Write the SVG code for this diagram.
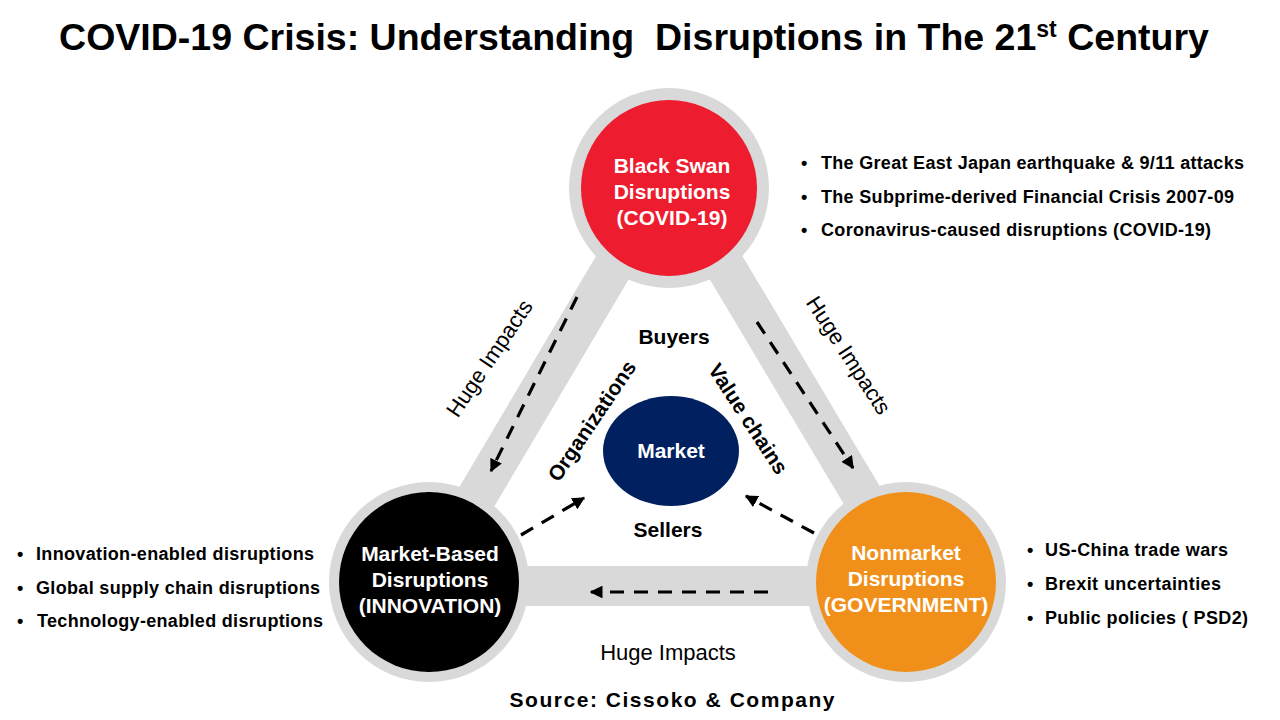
<svg xmlns="http://www.w3.org/2000/svg" width="1280" height="720" viewBox="0 0 1280 720">
<defs>
<style>
.t{font-family:"Liberation Sans",Arial,sans-serif;}
.b{font-weight:bold;}
.ct{font-family:"Liberation Sans",Arial,sans-serif;font-weight:bold;font-size:21px;fill:#fff;text-anchor:middle;}
.lbl{font-family:"Liberation Sans",Arial,sans-serif;font-weight:bold;font-size:21px;fill:#000;text-anchor:middle;}
.hi{font-family:"Liberation Sans",Arial,sans-serif;font-size:22px;fill:#000;text-anchor:middle;}
.bul{font-family:"Liberation Sans",Arial,sans-serif;font-weight:bold;font-size:18px;fill:#000;}
.ring{fill:#d9d9d9;}
.dash{stroke:#000;stroke-width:3.2;stroke-dasharray:14 10;fill:none;marker-end:url(#ah);}
</style>
<marker id="ah" viewBox="0 0 10 10" refX="9" refY="5" markerWidth="4" markerHeight="4" orient="auto" markerUnits="strokeWidth">
<path d="M0,0 L10,5 L0,10 z" fill="#000"/>
</marker>
</defs>
<rect width="1280" height="720" fill="#fff"/>

<g id="title">
<text class="t b" x="634" y="50" text-anchor="middle" font-size="37.5" style="white-space:pre">COVID-19 Crisis: Understanding  Disruptions in The 21<tspan font-size="23" dy="-13">st</tspan><tspan dy="13"> Century</tspan></text>
</g>

<g id="bars">
<polygon points="669,172 424,586 916,586" fill="none" stroke="#d9d9d9" stroke-width="40" stroke-linejoin="miter"/>
</g>

<g id="node-blackswan">
<circle class="ring" cx="669" cy="188" r="100"/>
<circle cx="669" cy="188" r="88" fill="#ed1c2e"/>
<text class="ct" x="672" y="173">Black Swan</text>
<text class="ct" x="672" y="199">Disruptions</text>
<text class="ct" x="672" y="225">(COVID-19)</text>
</g>

<g id="node-marketbased">
<circle class="ring" cx="429" cy="582" r="100"/>
<circle cx="429" cy="582" r="90" fill="#000"/>
<text class="ct" x="430" y="561">Market-Based</text>
<text class="ct" x="430" y="587">Disruptions</text>
<text class="ct" x="430" y="613">(INNOVATION)</text>
</g>

<g id="node-nonmarket">
<circle class="ring" cx="906" cy="582" r="100"/>
<circle cx="906" cy="582" r="90" fill="#f0901a"/>
<text class="ct" x="906" y="560">Nonmarket</text>
<text class="ct" x="906" y="586">Disruptions</text>
<text class="ct" x="906" y="612">(GOVERNMENT)</text>
</g>

<g id="node-market">
<ellipse cx="671" cy="451" rx="68" ry="55" fill="#002060"/>
<text class="ct" x="671" y="458" font-size="21.5">Market</text>
</g>

<g id="connectors">
<line class="dash" x1="577" y1="297" x2="491" y2="471"/>
<line class="dash" x1="757" y1="322" x2="853" y2="468"/>
<line class="dash" x1="768" y1="592" x2="591" y2="592"/>
<line class="dash" x1="521" y1="535" x2="584" y2="498"/>
<line class="dash" x1="814" y1="533" x2="746" y2="496"/>
</g>

<g id="labels">
<text class="lbl" x="674" y="344">Buyers</text>
<text class="lbl" x="668" y="537">Sellers</text>
<text class="lbl" transform="translate(592,421) rotate(-56)" x="0" y="7">Organizations</text>
<text class="lbl" transform="translate(748,419) rotate(57)" x="0" y="7">Value chains</text>
<text class="hi" transform="translate(489,358) rotate(-56)" x="0" y="8">Huge Impacts</text>
<text class="hi" transform="translate(849,355) rotate(57)" x="0" y="8">Huge Impacts</text>
<text class="hi" x="668" y="660">Huge Impacts</text>
<text class="lbl" x="672" y="707" font-size="25.5" textLength="325" lengthAdjust="spacing">Source: Cissoko &amp; Company</text>
</g>

<g id="bullets-blackswan">
<text class="bul" x="801" y="169">•</text><text class="bul" x="821" y="169" textLength="423">The Great East Japan earthquake &amp; 9/11 attacks</text>
<text class="bul" x="801" y="203">•</text><text class="bul" x="821" y="203" textLength="413">The Subprime-derived Financial Crisis 2007-09</text>
<text class="bul" x="801" y="236">•</text><text class="bul" x="821" y="236" textLength="390">Coronavirus-caused disruptions (COVID-19)</text>
</g>

<g id="bullets-marketbased">
<text class="bul" x="17" y="560">•</text><text class="bul" x="36" y="560" textLength="278">Innovation-enabled disruptions</text>
<text class="bul" x="17" y="594">•</text><text class="bul" x="36" y="594" textLength="284">Global supply chain disruptions</text>
<text class="bul" x="17" y="627">•</text><text class="bul" x="37" y="627" textLength="286">Technology-enabled disruptions</text>
</g>

<g id="bullets-nonmarket">
<text class="bul" x="1027" y="556">•</text><text class="bul" x="1045" y="556" textLength="183">US-China trade wars</text>
<text class="bul" x="1027" y="590">•</text><text class="bul" x="1045" y="590" textLength="176">Brexit uncertainties</text>
<text class="bul" x="1027" y="624">•</text><text class="bul" x="1045" y="624" textLength="203">Public policies ( PSD2)</text>
</g>
</svg>
